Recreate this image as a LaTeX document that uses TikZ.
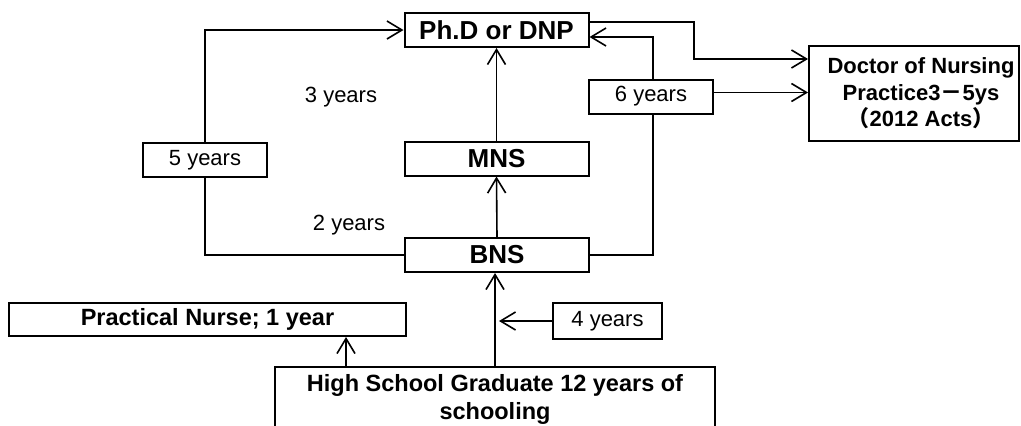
\documentclass[tikz,border=0pt]{standalone}
\usepackage{fontspec}
\setmainfont{Liberation Sans}
\newfontfamily\jp{Noto Sans CJK JP}
\usetikzlibrary{arrows.meta}

\begin{document}
\begin{tikzpicture}[x=1pt,y=-1pt,line width=1.6pt,
  box/.style={draw, line width=2pt, fill=white, inner sep=0pt},
  level/.style={box, minimum width=184pt, minimum height=34pt, font=\fontsize{26}{30}\selectfont\bfseries},
  yrs/.style={box, minimum width=124pt, minimum height=34pt, font=\fontsize{22}{26}\selectfont},
  plain/.style={font=\fontsize{22}{26}\selectfont},
  arr/.style={-{Straight Barb[length=15pt,width=18pt]}}]
\useasboundingbox (0,0) rectangle (1021,426);
\clip (0,0) rectangle (1021,426);
% degree levels
\node[level] (phd) at (496.5,30) {Ph.D or DNP};
\node[level] (mns) at (496.5,158.5) {MNS};
\node[level] (bns) at (497,255) {BNS};
\node[box, minimum width=210pt, minimum height=95pt, align=center, font=\fontsize{22}{26.5}\selectfont\bfseries] (dnp) at (914,93.5) {\hspace*{14pt}Doctor of Nursing\\\hspace*{14pt}Practice3{\jp －}5ys\\\hspace*{14pt}{\jp （}2012 Acts{\jp ）}};
\node[box, minimum width=397pt, minimum height=33pt, font=\fontsize{23.5}{28}\selectfont\bfseries] (pn) at (207.5,319.5) {Practical Nurse; 1 year};
\node[box, minimum width=440pt, minimum height=64pt, align=center, font=\fontsize{23.5}{28}\selectfont\bfseries] (hs) at (495,399) {High School Graduate 12 years of\\schooling};
% durations
\node[yrs] (y5) at (205,160) {5 years};
\node[plain] (y3) at (341,97) {3 years};
\node[plain] (y2) at (349,225) {2 years};
\node[yrs, minimum width=109pt, minimum height=36pt] (y4) at (607.5,321) {4 years};
% paths
\draw[arr] (y5.north) |- (phd.west);
\draw (bns.west) -| (y5.south);
\draw[arr] (bns.north) -- (mns.south);
\draw[arr] (mns.north) -- (phd.south);
\draw[arr] (bns.east) -| (653,37) -- ([yshift=-7pt]phd.east);
\coordinate (j1) at (694,59);
\draw[arr] ([yshift=8pt]phd.east) -| (j1) -- (j1 -| dnp.west);
\node[yrs] (y6) at (651,96.5) {6 years};
\draw[arr] ([yshift=4pt]y6.east) -- ([yshift=4pt]y6.east -| dnp.west);
\draw[arr] (hs.north) -- (hs.north |- bns.south);
\draw[arr] ([xshift=72pt]hs.north west) -- ([xshift=72pt]hs.north west |- pn.south);
\draw[arr, shorten >=4pt] (y4.west) -- (y4.west -| hs.north);
\end{tikzpicture}
\end{document}
